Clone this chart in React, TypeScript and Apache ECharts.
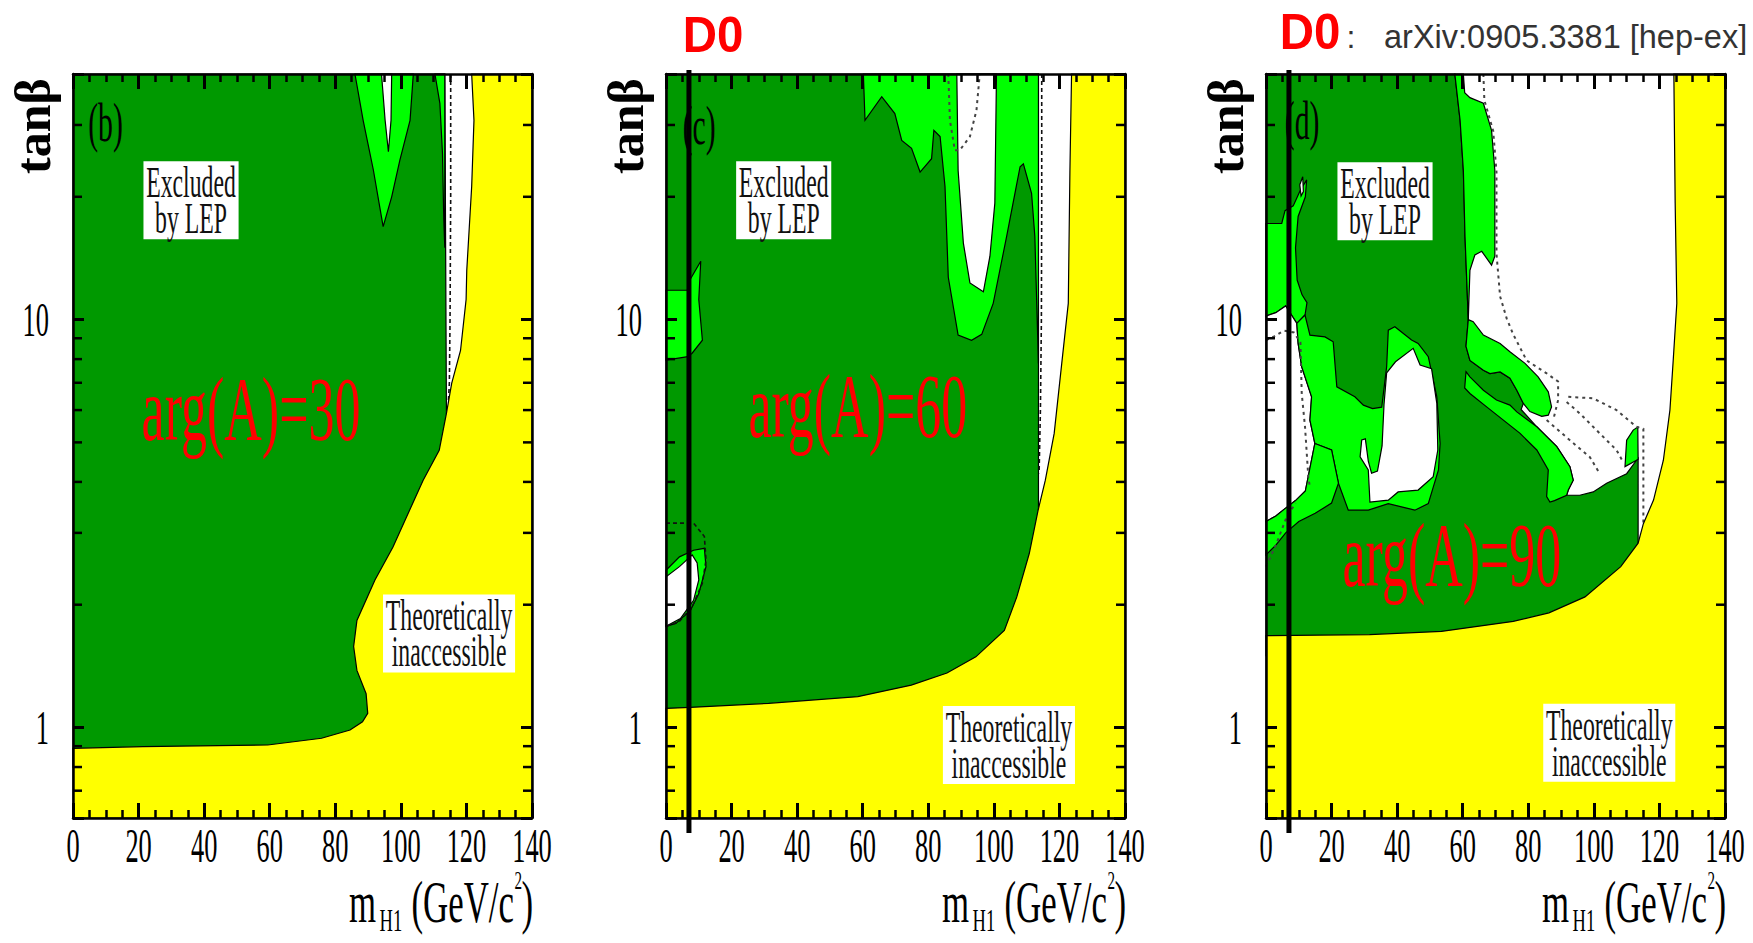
import React, { useEffect, useRef } from "react";
import * as echarts from "echarts";

// ---------------- layout / style constants ----------------
const W = 1753;
const H = 943;
const GRID_LEFTS = [73, 666, 1266];
const GRID_TOP = 74;
const GRID_W = 459;
const GRID_H = 744;
const SERIF = '"Liberation Serif", "Times New Roman", serif';
const SANS = '"Liberation Sans", Arial, sans-serif';
const DARK = "#009900";
const LIGHT = "#00ff00";
const YELLOW = "#ffff00";
const WHITE = "#ffffff";

// ---------------- axes ----------------
const X_MIN = 0;
const X_MAX = 140;
const Y_MIN = 0.6;
const Y_MAX = 40;
const xTickValues = [0, 20, 40, 60, 80, 100, 120, 140];
const yTickValues = [1, 10];
const yMinorTickValues = [0.7, 0.8, 0.9, 2, 3, 4, 5, 6, 7, 8, 9, 20, 30];
const d0Mass = 7; // GeV/c^2, D0 vertical line
const d0LineSpan = [0.551, 40.9];

// ---------------- panel (b) arg(A)=30 ----------------
const p1Excluded = [[0, 40], [113.4, 40], [113.9, 5.89], [125, 5.0], [125, 0.8], [0, 0.8]];
const p1LightV = [[86.0, 40], [88.5, 30.8], [91.6, 23.3], [94.6, 16.9], [97.2, 20.0], [99.7, 24.6], [102.8, 30.8], [103.8, 40]];
const p1WhiteV = [[94.1, 40], [95.2, 30.8], [96.2, 25.8], [97.0, 30.8], [97.2, 40]];
const p1LightSliver = [[110.4, 40], [113.4, 40], [113.4, 15], [113.1, 17.5], [112.7, 25.5], [111.9, 33.9]];
const p1Expected = [[115.2, 40], [115.2, 20], [115.0, 10], [114.8, 7.0], [114.5, 6.3]];
const p1Theory = [[121.6, 40], [122.3, 30.8], [121.6, 21.2], [120.1, 13.2], [119.9, 11.2], [118.2, 8.4], [115.5, 6.98], [113.9, 5.89], [111.7, 4.78], [106.8, 4.04], [97.6, 2.77], [92.1, 2.30], [86.6, 1.83], [85.6, 1.58], [86.6, 1.38], [89.4, 1.21], [89.9, 1.083], [88.3, 1.033], [84.5, 0.986], [75.8, 0.941], [59.4, 0.906], [21.3, 0.898], [0, 0.889], [0, 0.6], [140, 0.6], [140, 40]];

// ---------------- panel (c) arg(A)=60 ----------------
const p2Excluded = [[0, 40], [113.6, 40], [113.6, 3.41], [125, 3.0], [125, 1.0], [0, 1.0]];
const p2LightTop = [[60.2, 40], [113.6, 40], [113.6, 7.8], [112.5, 16.0], [111.5, 20.4], [109.0, 24.1], [108.0, 23.7], [103.9, 16.0], [99.8, 10.96], [96.3, 9.2], [93.2, 8.9], [89.1, 9.16], [86.1, 12.7], [85.1, 21.2], [83.6, 28.1], [81.7, 29.1], [81.0, 24.8], [77.5, 23.0], [74.9, 26.3], [71.9, 27.5], [69.8, 32.0], [65.8, 35.2], [60.7, 30.8]];
const p2WhiteU = [[88.7, 40], [89.1, 23.2], [90.7, 15.4], [92.7, 12.3], [96.8, 11.7], [98.8, 14.3], [100.3, 19.3], [100.8, 40]];
const p2ExpectedU = [[86.1, 40], [86.6, 30.8], [88.1, 26.0], [89.6, 26.0], [92.7, 28.1], [94.7, 32.6], [95.7, 40]];
const p2LightLeft = [[0, 11.8], [6.5, 11.8], [7.5, 12.6], [10.6, 13.9], [10.0, 11.2], [11.1, 8.9], [7.9, 8.26], [6.2, 8.1], [0, 7.96]];
const p2LightBlob = [[0, 2.43], [4.1, 2.62], [8.4, 2.72], [11.7, 2.75], [12.2, 2.48], [10.0, 2.13], [7.5, 1.94], [3.0, 1.80], [0, 1.77]];
const p2WhiteBlob = [[0, 2.34], [4.1, 2.48], [8.0, 2.65], [9.5, 2.53], [10.0, 2.30], [8.4, 2.05], [4.4, 1.85], [0, 1.77]];
const p2ExpectedBlob = [[0, 3.17], [8.4, 3.17], [11.7, 2.94], [12.2, 2.57], [11.1, 2.26], [8.0, 1.98], [4.1, 1.82], [0, 1.77]];
const p2Expected = [[114.6, 40], [114.6, 20], [114.5, 10], [114.2, 6], [113.8, 4.2]];
const p2Theory = [[123.7, 40], [123.2, 23.2], [122.7, 10.96], [120.7, 7.8], [118.4, 5.26], [115.7, 4.04], [113.5, 3.41], [110.8, 2.67], [107.0, 2.09], [103.2, 1.73], [94.5, 1.49], [85.7, 1.36], [74.8, 1.27], [58.5, 1.19], [31.3, 1.146], [7.3, 1.12], [0, 1.114], [0, 0.6], [140, 0.6], [140, 40]];

// ---------------- panel (d) arg(A)=90 ----------------
const p3Excluded = [[0, 40], [57.6, 40], [59.2, 30.8], [60.2, 23.2], [60.7, 16], [61.7, 10], [61.0, 8.6], [62.2, 7.94], [66.3, 7.51], [68.3, 7.37], [71.4, 7.44], [74.4, 7.18], [76.5, 6.71], [78.5, 6.23], [77.8, 6.02], [82.6, 5.46], [88.7, 4.88], [92.7, 4.36], [93.7, 4.04], [92.2, 3.82], [91.7, 3.71], [95.7, 3.71], [99.8, 3.78], [103.9, 3.97], [110, 4.19], [113, 4.52], [113.5, 4.6], [113.5, 2.83], [125, 2.5], [125, 1.5], [0, 1.5]];
const p3LightLeftTop = [[0, 17.2], [4.8, 17.2], [5.8, 18.5], [8.3, 19.0], [10.4, 20.7], [12.4, 22.0], [12.0, 20.0], [9.8, 17.9], [9.0, 15.0], [9.5, 12.5], [11.0, 11.5], [12.5, 11.0], [11.9, 10.26], [9.4, 9.79], [6.0, 10.8], [3.0, 10.4], [0, 10.2]];
const p3WhiteSpot = [[10.3, 21.4], [11.2, 22.4], [11.4, 20.6], [10.7, 20.1]];
const p3WhiteLeft = [[0, 10.2], [3, 10.4], [6, 10.8], [9.4, 9.79], [9.8, 8.74], [10.9, 7.66], [13.9, 6.47], [13.4, 5.67], [14.9, 4.97], [12, 3.8], [9, 3.6], [6, 3.45], [3, 3.3], [0, 3.2]];
const p3LightMid = [[9.4, 9.79], [11.9, 10.26], [13.4, 9.16], [18.0, 9.07], [20.5, 8.82], [21.6, 6.84], [27.1, 6.47], [29.7, 6.17], [32.5, 6.05], [35.3, 6.1], [36.8, 7.66], [37.3, 9.42], [39.3, 9.6], [44.4, 8.91], [46.4, 8.74], [49.5, 8.11], [52.1, 6.47], [53.1, 4.97], [52.6, 4.28], [49.5, 3.54], [45.4, 3.41], [37.3, 3.54], [31.2, 3.41], [25.1, 3.41], [22.1, 3.97], [20.0, 4.79], [14.9, 4.97], [13.4, 5.67], [13.9, 6.47], [10.9, 7.66], [9.8, 8.74]];
const p3WhiteMid = [[36.8, 7.4], [39.5, 7.88], [44.9, 8.5], [47.0, 7.74], [50.5, 7.58], [52.1, 6.23], [52.4, 4.79], [51.0, 4.12], [46.4, 3.82], [40.3, 3.78], [37.3, 3.61], [31.7, 3.57], [31.2, 4.28], [28.7, 4.61], [29.2, 5.07], [30.3, 5.1], [31.2, 4.5], [32.2, 4.2], [34.0, 4.25], [35.4, 4.9], [36.0, 6.2]];
const p3LightBottomLeft = [[0, 3.2], [3, 3.3], [6, 3.45], [9, 3.6], [12, 3.8], [14.9, 4.97], [20, 4.79], [22.1, 3.97], [20, 3.55], [15, 3.35], [10, 3.2], [6, 3.0], [3, 2.8], [0, 2.65]];
const p3LightFlag = [[57.6, 40], [60.2, 40], [60.6, 36], [62.2, 35], [66.3, 33.9], [68.8, 29.1], [69.8, 23.2], [69.8, 14.3], [68.8, 13.6], [65.8, 14.7], [63.7, 14.4], [62.2, 13.2], [61.7, 10], [60.7, 16], [60.2, 23.2], [59.2, 30.8]];
const p3LightUpper = [[61.7, 10], [63.2, 9.88], [66.3, 9.16], [71.4, 8.74], [74.4, 8.34], [79.0, 7.81], [83.0, 7.24], [86.1, 6.65], [87.1, 6.11], [86.1, 5.83], [84.1, 5.79], [80.5, 5.95], [78.5, 6.23], [76.5, 6.71], [74.4, 7.18], [71.4, 7.44], [68.3, 7.37], [66.3, 7.51], [62.2, 7.94], [61.0, 8.6]];
const p3LightLower = [[61.0, 7.45], [62.2, 7.24], [66.3, 6.71], [70.3, 6.35], [74.4, 6.17], [76.5, 5.94], [82.6, 5.46], [88.7, 4.88], [92.7, 4.36], [93.7, 4.04], [92.2, 3.82], [91.7, 3.71], [88.0, 3.6], [86.6, 3.57], [85.6, 3.68], [86.1, 4.28], [82.6, 4.79], [77.5, 5.26], [72.4, 5.67], [67.3, 6.11], [62.2, 6.59], [60.6, 6.8]];
const p3LightSpike = [[109.5, 4.36], [110, 5.06], [112, 5.36], [113.4, 5.45], [113.5, 4.55], [113, 4.52]];
const p3ExpectedA = [[66.3, 40], [66.6, 34.5], [69.3, 29], [70.3, 23], [70.3, 14.5], [71.4, 11.4], [73.4, 10.07], [75.4, 9.2], [79.5, 7.94], [85.6, 7.38], [89.1, 7.05], [89.1, 6.35], [87.6, 5.67]];
const p3ExpectedB = [[92.2, 6.47], [99.8, 6.41], [106.9, 6.0], [113.0, 5.46], [115.1, 5.4], [115.1, 2.95]];
const p3ExpectedC = [[91.7, 6.28], [95.7, 5.89], [101.8, 5.26], [106.9, 4.79], [108.9, 4.48]];
const p3ExpectedD = [[85.6, 5.67], [92.7, 5.06], [98.8, 4.6], [101.8, 4.19]];
const p3ExpectedLeft = [[0, 8.9], [2.5, 9.1], [5.5, 9.4], [8.5, 9.3], [10.5, 8.8], [10.9, 6.59], [11.9, 5.46], [12.9, 4.12], [13.4, 3.87]];
const p3ExpectedCorner = [[0, 2.48], [3, 2.8], [6.3, 3.28], [9, 3.55]];
const p3Theory = [[124.4, 40], [124.8, 19.3], [125.3, 10.96], [124.2, 7.94], [123.2, 6.0], [121.2, 4.52], [118.2, 3.61], [115.1, 3.16], [113.5, 2.83], [108.2, 2.48], [97.3, 2.09], [86.3, 1.91], [75.4, 1.82], [53.5, 1.72], [31.6, 1.69], [0, 1.68], [0, 0.6], [140, 0.6], [140, 40]];

// ---------------- annotations (data coordinates) ----------------
const p1Notes = [
  { kind: "letter", x: 9.9, y: 30.5, text: "(b)" },
  { kind: "box", x: 36.0, y: 19.6, text: "Excluded\nby LEP" },
  { kind: "arg", x: 54.3, y: 6.06, text: "arg(A)=30" },
  { kind: "box", x: 114.7, y: 1.70, text: "Theoretically\ninaccessible" },
];
const p2Notes = [
  { kind: "letter", x: 10.1, y: 30.0, text: "(c)" },
  { kind: "box", x: 35.9, y: 19.6, text: "Excluded\nby LEP" },
  { kind: "arg", x: 58.5, y: 6.17, text: "arg(A)=60" },
  { kind: "box", x: 104.6, y: 0.906, text: "Theoretically\ninaccessible" },
];
const p3Notes = [
  { kind: "letter", x: 11.0, y: 30.8, text: "(d)" },
  { kind: "box", x: 36.3, y: 19.5, text: "Excluded\nby LEP" },
  { kind: "arg", x: 56.7, y: 2.65, text: "arg(A)=90" },
  { kind: "box", x: 104.7, y: 0.917, text: "Theoretically\ninaccessible" },
];

type Layer = { pts: number[][]; fill?: string; stroke?: string; dash?: number[]; width?: number };
const area = (pts: number[][], fill: string): Layer => ({ pts, fill });
const dashed = (pts: number[][]): Layer => ({ pts, stroke: "#111", dash: [4, 3], width: 1.6 });
const dotted = (pts: number[][]): Layer => ({ pts, stroke: "#444", dash: [3, 4], width: 2 });

const panels = [
  {
    layers: [
      area(p1Excluded, DARK), area(p1LightV, LIGHT), area(p1WhiteV, WHITE), area(p1LightSliver, LIGHT),
      dashed(p1Expected), area(p1Theory, YELLOW),
    ],
    notes: p1Notes,
    d0: false,
  },
  {
    layers: [
      area(p2Excluded, DARK), area(p2LightTop, LIGHT), area(p2WhiteU, WHITE), dotted(p2ExpectedU),
      area(p2LightLeft, LIGHT), area(p2LightBlob, LIGHT), area(p2WhiteBlob, WHITE), dashed(p2ExpectedBlob),
      dashed(p2Expected), area(p2Theory, YELLOW),
    ],
    notes: p2Notes,
    d0: true,
  },
  {
    layers: [
      area(p3Excluded, DARK), area(p3LightLeftTop, LIGHT), area(p3WhiteSpot, WHITE), area(p3WhiteLeft, WHITE),
      area(p3LightMid, LIGHT), area(p3WhiteMid, WHITE), area(p3LightBottomLeft, LIGHT),
      area(p3LightFlag, LIGHT), area(p3LightUpper, LIGHT), area(p3LightLower, LIGHT), area(p3LightSpike, LIGHT),
      dotted(p3ExpectedA), dotted(p3ExpectedB), dotted(p3ExpectedC), dotted(p3ExpectedD),
      dotted(p3ExpectedLeft), dotted(p3ExpectedCorner), area(p3Theory, YELLOW),
    ],
    notes: p3Notes,
    d0: true,
  },
];

function serifText(text: string, size: number, extra: any = {}) {
  return {
    text,
    font: `${size}px ${SERIF}`,
    fill: "#000",
    textAlign: "center",
    textVerticalAlign: "middle",
    ...extra,
  };
}

function buildOption() {
  const grid: any[] = [];
  const xAxis: any[] = [];
  const yAxis: any[] = [];
  const series: any[] = [];
  const graphic: any[] = [];

  const axisLine = { show: true, onZero: false, lineStyle: { color: "#000", width: 2.5 } };

  panels.forEach((panel, k) => {
    const left = GRID_LEFTS[k];
    const right = left + GRID_W;
    grid.push({ left, top: GRID_TOP, width: GRID_W, height: GRID_H, outerBoundsMode: "none" });
    ["bottom", "top"].forEach((pos) =>
      xAxis.push({
        type: "value", gridIndex: k, position: pos, min: X_MIN, max: X_MAX, interval: 20,
        axisLine, axisLabel: { show: false }, splitLine: { show: false },
        axisTick: { show: true, inside: true, length: 15, lineStyle: { color: "#000", width: 3 } },
        minorTick: { show: true, splitNumber: 4, length: 8, lineStyle: { color: "#000", width: 2.5 } },
        minorSplitLine: { show: false }, z: 10,
      })
    );
    ["left", "right"].forEach((pos) =>
      yAxis.push({
        type: "log", logBase: 10, gridIndex: k, position: pos, min: Y_MIN, max: Y_MAX,
        axisLine, axisLabel: { show: false }, splitLine: { show: false },
        axisTick: { show: true, inside: true, length: 11, lineStyle: { color: "#000", width: 3 } },
        z: 10,
      })
    );
    const xi = 2 * k;
    const yi = 2 * k;

    // regions and expected-limit contours
    series.push({
      type: "custom", xAxisIndex: xi, yAxisIndex: yi, z: 2, silent: true,
      data: panel.layers.map(() => [70, 5]),
      renderItem: (params: any, api: any) => {
        const L = panel.layers[params.dataIndex];
        const pts = L.pts.map((p) => api.coord(p));
        if (L.fill) {
          return { type: "polygon", shape: { points: pts }, style: { fill: L.fill, stroke: "#000", lineWidth: 1.2 } };
        }
        return { type: "polyline", shape: { points: pts }, style: { fill: null, stroke: L.stroke, lineWidth: L.width, lineDash: L.dash } };
      },
    });

    // annotations
    series.push({
      type: "custom", xAxisIndex: xi, yAxisIndex: yi, z: 5, silent: true,
      data: panel.notes.map((n) => [n.x, n.y]),
      renderItem: (params: any, api: any) => {
        const n = panel.notes[params.dataIndex];
        const p = api.coord([n.x, n.y]);
        if (n.kind === "letter") {
          return { type: "text", x: p[0], y: p[1], scaleX: 0.55, style: serifText(n.text, 54) };
        }
        if (n.kind === "arg") {
          return { type: "text", x: p[0], y: p[1], scaleX: 0.565, style: serifText(n.text, 92, { fill: "#ff0000" }) };
        }
        return {
          type: "text", x: p[0], y: p[1], scaleX: 0.54,
          style: serifText(n.text, 44, { fill: "#111", lineHeight: 36, backgroundColor: "#fff", padding: [3, 5] }),
        };
      },
    });

    // minor ticks on the log axes (left & right)
    series.push({
      type: "custom", xAxisIndex: xi, yAxisIndex: yi, z: 11, silent: true,
      data: yMinorTickValues.map((v) => [X_MIN, v]),
      renderItem: (params: any, api: any) => {
        const v = yMinorTickValues[params.dataIndex];
        const a = api.coord([X_MIN, v]);
        const b = api.coord([X_MAX, v]);
        const st = { stroke: "#000", lineWidth: 2.5 };
        return {
          type: "group",
          children: [
            { type: "line", shape: { x1: a[0], y1: a[1], x2: a[0] + 9, y2: a[1] }, style: st },
            { type: "line", shape: { x1: b[0], y1: b[1], x2: b[0] - 9, y2: b[1] }, style: st },
          ],
        };
      },
    });

    // tick labels x
    series.push({
      type: "custom", xAxisIndex: xi, yAxisIndex: yi, z: 12, silent: true, clip: false,
      data: xTickValues.map((v) => [v, Y_MIN]),
      renderItem: (params: any, api: any) => {
        const v = xTickValues[params.dataIndex];
        const p = api.coord([v, Y_MIN]);
        return { type: "text", x: p[0], y: p[1] + 27, scaleX: 0.55, style: serifText(String(v), 48) };
      },
    });
    // tick labels y
    series.push({
      type: "custom", xAxisIndex: xi, yAxisIndex: yi, z: 12, silent: true, clip: false,
      data: yTickValues.map((v) => [X_MIN, v]),
      renderItem: (params: any, api: any) => {
        const v = yTickValues[params.dataIndex];
        const p = api.coord([X_MIN, v]);
        return { type: "text", x: p[0] - 24, y: p[1], scaleX: 0.55, style: serifText(String(v), 48, { textAlign: "right" }) };
      },
    });

    if (panel.d0) {
      series.push({
        type: "custom", xAxisIndex: xi, yAxisIndex: yi, z: 20, silent: true, clip: false,
        data: [[d0Mass, 5]],
        renderItem: (params: any, api: any) => {
          const a = api.coord([d0Mass, d0LineSpan[1]]);
          const b = api.coord([d0Mass, d0LineSpan[0]]);
          return { type: "line", shape: { x1: a[0], y1: a[1], x2: b[0], y2: b[1] }, style: { stroke: "#000", lineWidth: 5 } };
        },
      });
    }

    // axis titles
    graphic.push({
      type: "text", x: left - 40, y: 126, rotation: Math.PI / 2, z: 100,
      style: { text: "tanβ", font: `bold 50px ${SERIF}`, fill: "#000", textAlign: "center", textVerticalAlign: "middle" },
    });
    const titleParts = [
      { t: "m", dx: -183, y: 902, s: 60 },
      { t: "H1", dx: -152.5, y: 921, s: 32 },
      { t: "(GeV/c", dx: -120.5, y: 902, s: 60 },
      { t: "2", dx: -17.5, y: 880, s: 26 },
      { t: ")", dx: -10.5, y: 902, s: 60 },
    ];
    titleParts.forEach((tp) =>
      graphic.push({
        type: "text", x: right + tp.dx, y: tp.y, scaleX: 0.58, z: 100,
        style: { text: tp.t, font: `${tp.s}px ${SERIF}`, fill: "#000", textAlign: "left", textVerticalAlign: "middle" },
      })
    );
  });

  // D0 headers
  graphic.push({
    type: "text", x: GRID_LEFTS[1] + 47, y: 35, scaleX: 0.95, z: 100,
    style: { text: "D0", font: `bold 50px ${SANS}`, fill: "#ff0000", textAlign: "center", textVerticalAlign: "middle" },
  });
  graphic.push({
    type: "text", x: GRID_LEFTS[2] + 44, y: 32, scaleX: 0.95, z: 100,
    style: { text: "D0", font: `bold 50px ${SANS}`, fill: "#ff0000", textAlign: "center", textVerticalAlign: "middle" },
  });
  graphic.push({
    type: "text", x: GRID_LEFTS[2] + 85, y: 37, z: 100,
    style: { text: ":", font: `32px ${SANS}`, fill: "#333", textAlign: "center", textVerticalAlign: "middle" },
  });
  graphic.push({
    type: "text", x: GRID_LEFTS[2] + 118, y: 37, z: 100,
    style: { text: "arXiv:0905.3381 [hep-ex]", font: `32.5px ${SANS}`, fill: "#333", textAlign: "left", textVerticalAlign: "middle" },
  });

  return { animation: false, backgroundColor: "#fff", grid, xAxis, yAxis, series, graphic };
}

export default function App() {
  const ref = useRef<HTMLDivElement>(null);
  useEffect(() => {
    if (!ref.current) return;
    const chart = echarts.init(ref.current, null, { renderer: "svg", width: W, height: H });
    chart.setOption(buildOption() as any);
    return () => chart.dispose();
  }, []);
  return (
    <div
      ref={ref}
      style={{ position: "fixed", left: 0, top: 0, width: W, height: H, background: "#fff" }}
    />
  );
}
